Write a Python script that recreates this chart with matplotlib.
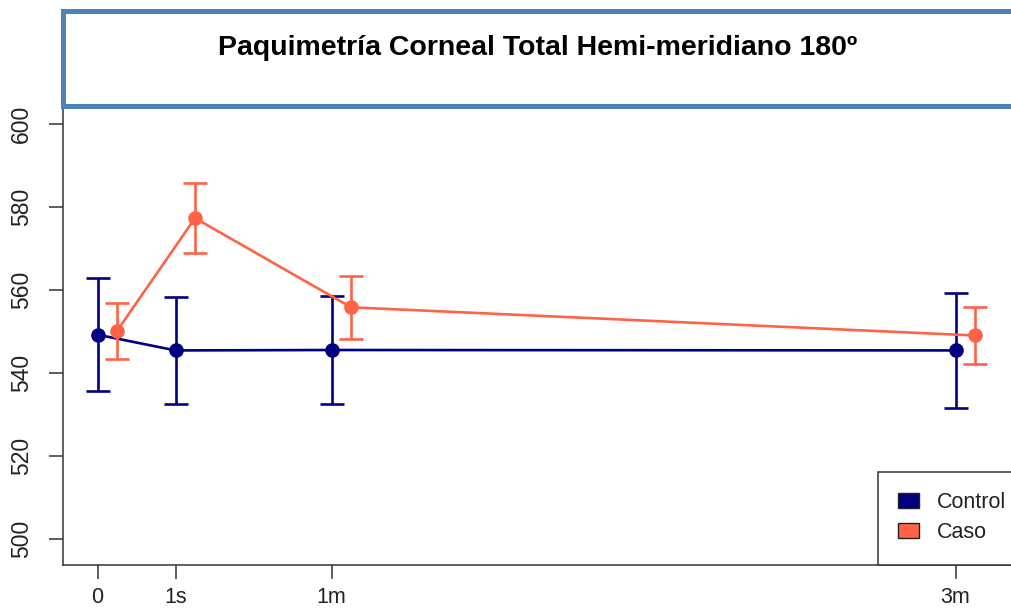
import matplotlib
matplotlib.use('Agg')
import matplotlib.pyplot as plt
from matplotlib.patches import Rectangle, Patch

# ---- data ----
time_labels = ['0', '1s', '1m', '3m']
time_pos = [0, 1, 3, 11]
control_mean = [549.2, 545.4, 545.5, 545.4]
control_err = [13.7, 12.9, 13.0, 13.8]
caso_mean = [550.1, 577.3, 555.8, 549.0]
caso_err = [6.8, 8.5, 7.6, 6.9]
caso_shift = 0.25
series_names = ['Control', 'Caso']
y_ticks = [500, 520, 540, 560, 580, 600]
title = 'Paquimetría Corneal Total Hemi-meridiano 180º'

plt.rcParams['font.family'] = ['Liberation Sans', 'DejaVu Sans']

W, H = 1011, 609
fig = plt.figure(figsize=(W / 100, H / 100), dpi=100)


def fx(px):
    return px / W


def fy(py):
    return 1 - py / H


left, right, top, bottom = 63, 1040, 108, 565
ax = fig.add_axes([fx(left), fy(bottom), (right - left) / W, (bottom - top) / H])

x0_px, x_scale = 97.5, 78.0
y600_px, y_scale = 124.0, 4.147
ax.set_xlim((left - x0_px) / x_scale, (right - x0_px) / x_scale)
ax.set_ylim(600 - (bottom - y600_px) / y_scale, 600 + (y600_px - top) / y_scale)

navy = '#000080'
tomato = '#FF6347'

ax.errorbar(time_pos, control_mean, yerr=control_err, color=navy, lw=1.9,
            marker='o', markersize=9.5, capsize=8.3, capthick=1.9,
            elinewidth=1.9, zorder=3)
caso_x = [p + caso_shift for p in time_pos]
ax.errorbar(caso_x, caso_mean, yerr=caso_err, color=tomato, lw=1.9,
            marker='o', markersize=9.5, capsize=8.3, capthick=1.9,
            elinewidth=1.9, zorder=4)

for s in ['top', 'right']:
    ax.spines[s].set_visible(False)
for s in ['left', 'bottom']:
    ax.spines[s].set_color('#333333')
    ax.spines[s].set_linewidth(1.1)

ax.set_xticks(time_pos)
ax.set_xticklabels(time_labels)
ax.set_yticks(y_ticks)
ax.set_yticklabels([str(v) for v in y_ticks])
ax.tick_params(axis='both', length=10, width=1.1, color='#333333',
               labelcolor='#222222', labelsize=16.5)
ax.tick_params(axis='y', pad=11.5)
ax.tick_params(axis='x', pad=5.5, labelsize=15.5)
for lab in ax.get_yticklabels():
    lab.set_rotation(90)
    lab.set_va('center')

# legend frame (R-style box, anchored to bottom axis line)
frame = Rectangle(((878 - left) / (right - left), 0),
                  (1200 - 878) / (right - left), (bottom - 472) / (bottom - top),
                  transform=ax.transAxes, facecolor='white',
                  edgecolor='#333333', lw=1.1, zorder=6, clip_on=False)
ax.add_patch(frame)

handles = [Patch(facecolor=navy, edgecolor='#222222', lw=1.0),
           Patch(facecolor=tomato, edgecolor='#222222', lw=1.0)]
leg = ax.legend(handles, series_names, loc='upper left',
                bbox_to_anchor=((878 - left) / (right - left),
                                (bottom - 472) / (bottom - top)),
                borderaxespad=0, frameon=False, fontsize=15.5,
                handlelength=0.95, handleheight=0.7, handletextpad=0.85,
                labelspacing=0.38, borderpad=0.95)
leg.set_zorder(7)
for t in leg.get_texts():
    t.set_color('#222222')

box = Rectangle((fx(62.5), fy(105.5)), fx(1200), (105.5 - 10.5) / H,
                transform=fig.transFigure, facecolor='white',
                edgecolor='#4F81BD', lw=3.6, zorder=10)
fig.add_artist(box)
fig.text(fx(537.5), fy(55), title, ha='center', va='baseline',
         fontsize=20.5, fontweight='bold', color='black', zorder=11)

fig.savefig('out.png', dpi=100)
